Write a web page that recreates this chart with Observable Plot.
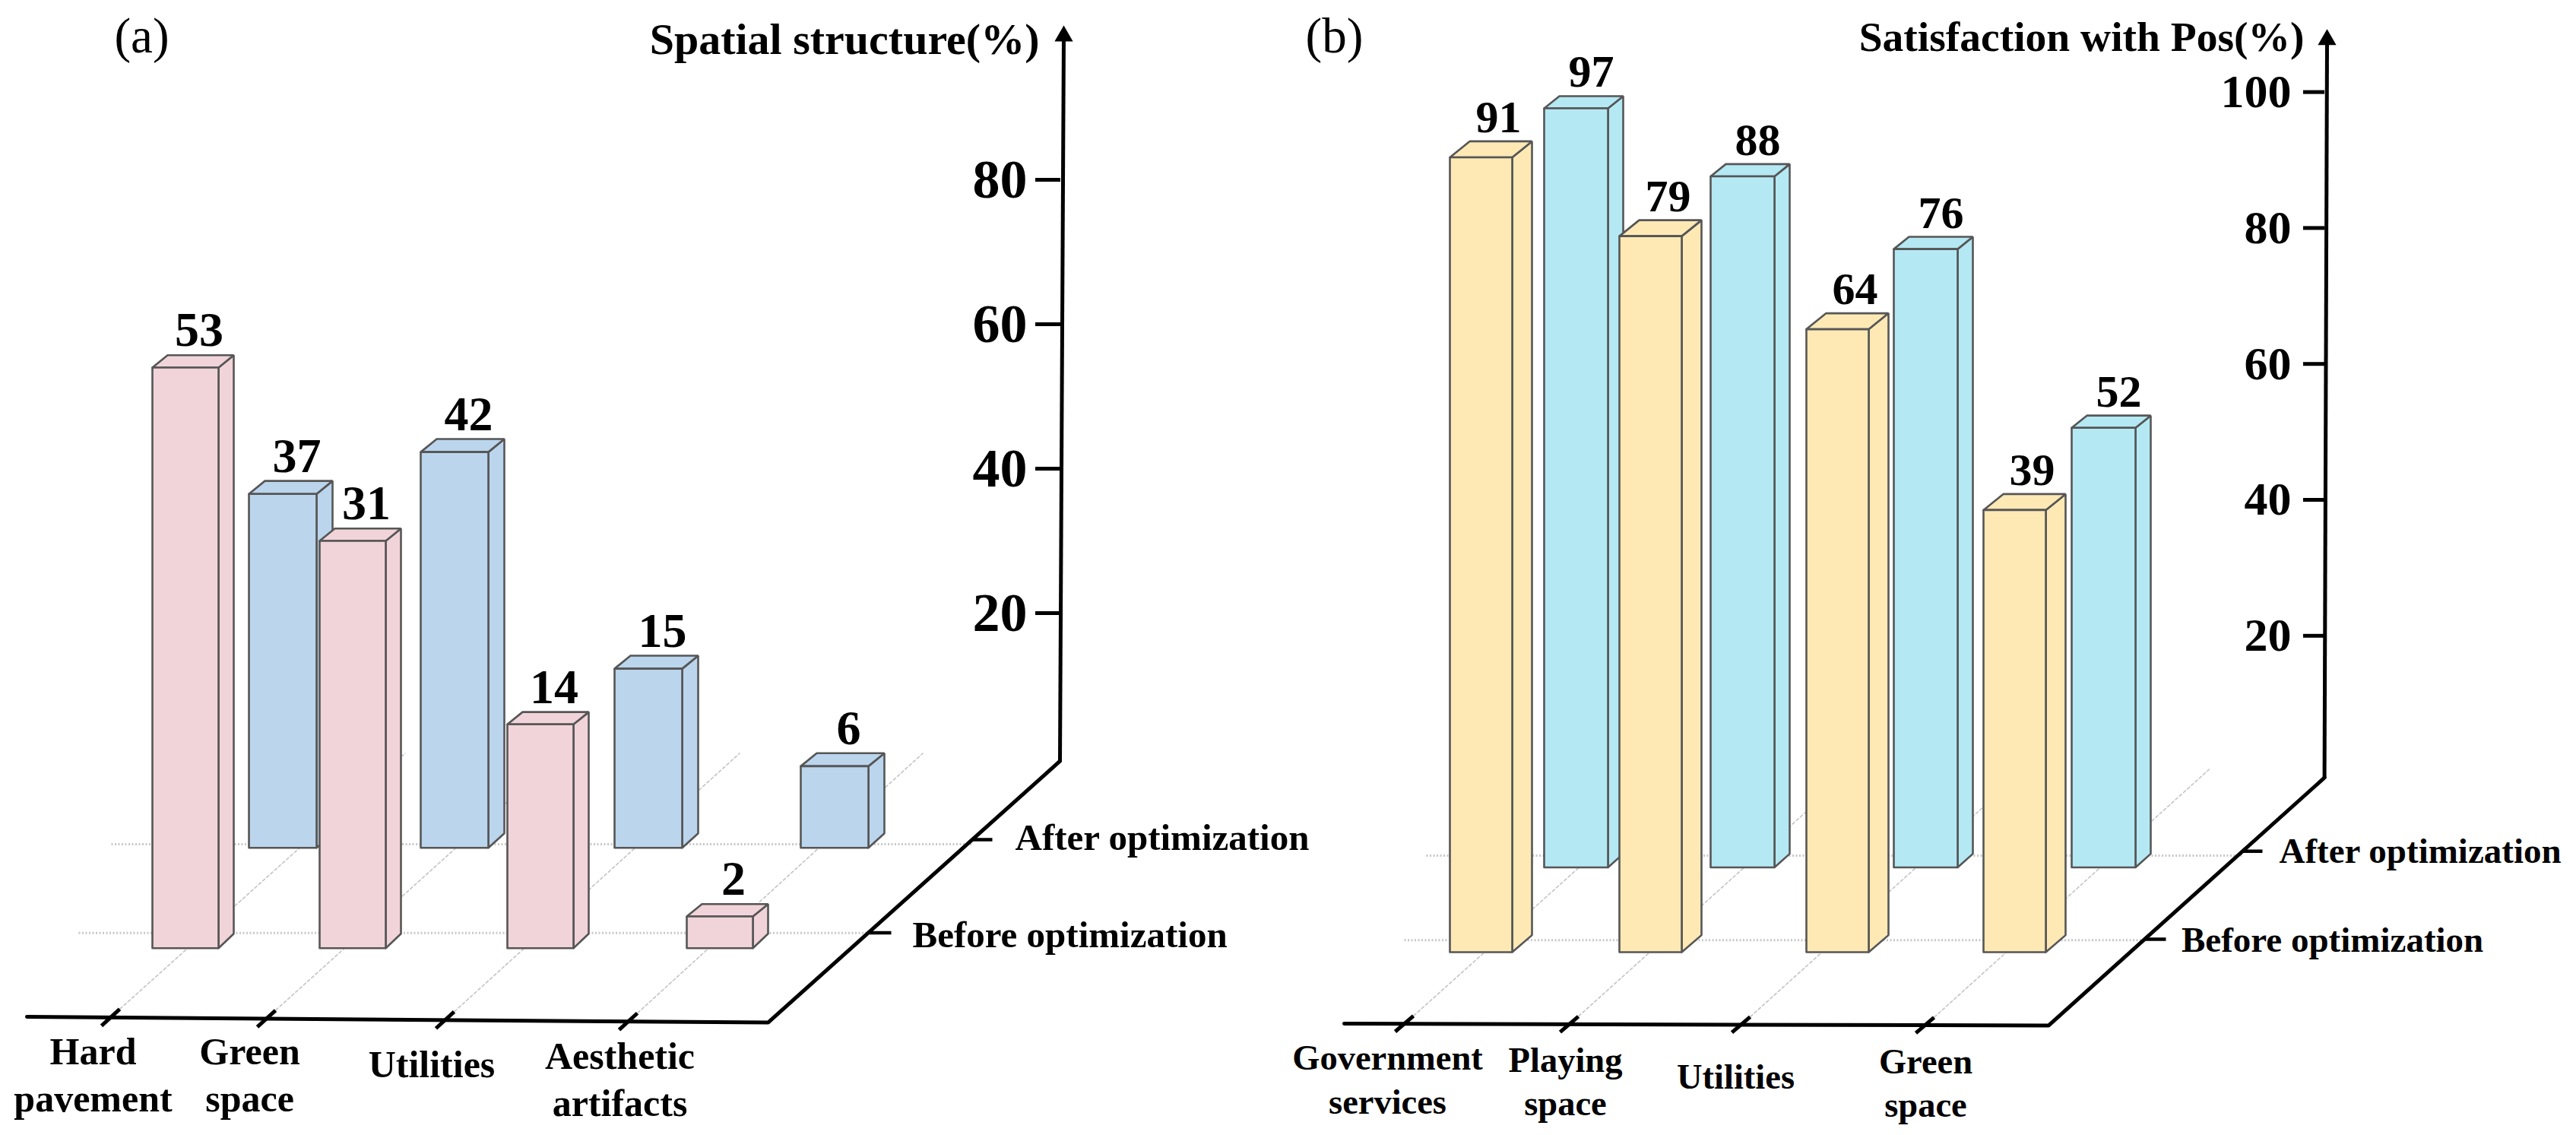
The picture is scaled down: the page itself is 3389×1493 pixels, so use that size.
<!DOCTYPE html>
<html>
<head>
<meta charset="utf-8">
<script src="https://cdn.jsdelivr.net/npm/d3@7"></script>
<script src="https://cdn.jsdelivr.net/npm/@observablehq/plot@0.6"></script>
<style>
  html, body { margin: 0; padding: 0; background: #fff; }
  #chart { display: flex; width: 3389px; height: 1493px; }
  #chart svg { display: block; flex: none; max-width: none; }
</style>
</head>
<body>
<div id="chart"></div>
<script>
// ---- Chart values ----
const spatialCategories = ["Hard\npavement", "Green\nspace", "Utilities", "Aesthetic\nartifacts"];
const spatialBefore = [53, 31, 14, 2];   // printed above the bars
const spatialAfter = [37, 42, 15, 6];    // printed above the bars
// The bars are not all drawn exactly at their printed value (the short bars of
// panel (a) least of all): these are the bar tops as they read against each
// panel's own vertical axis.
const spatialBeforeDrawn = [54, 30, 4.6, -22];
const spatialAfterDrawn = [36.5, 42.3, 12.3, -1.2];

const posCategories = ["Government\nservices", "Playing\nspace", "Utilities", "Green\nspace"];
const posBefore = [91, 79, 64, 39];
const posAfter = [97, 88, 76, 52];
const posBeforeDrawn = [90.4, 78.8, 65.1, 38.5];
const posAfterDrawn = [97.6, 87.6, 76.9, 50.6];

const seriesNames = ["Before optimization", "After optimization"];

// ---- Layout of the oblique view (separate from the values) ----
const panels = [
  {
    letter: "(a)", title: "Spatial structure(%)",
    categories: spatialCategories,
    ticks: [20, 40, 60, 80],
    xDomain: [0, 1700], width: 1700,
    yDomain: [104.84, -52.32],
    letterAt: [186, 97.6], titleAt: [1367, 97.4], titleSize: 58,
    tickSize: 72, tickSide: 33, tickPad: 11, valueSize: 64, valueShift: 8,
    axisBase: [1394, -0.5], axisTop: [1399, 99.9], axisTickX: 1395,
    front: [[35, -35.9], [1010, -36.7]],
    catX: [145, 350, 585, 826], gridDx: 388, gridEnd: 0.63,
    labelX: [122, 328, 567.5, 815], labelY: [-49.05, -49.05, -44.3, -49.6],
    labelSize: 50, depthSize: 49,
    series: [
      { name: seriesNames[1], labels: spatialAfter, drawn: spatialAfterDrawn, left: [327, 553, 808, 1053],
        w: 89, dx: 21, dy: 1.8, baseDy: 2, base: -12.5, fill: "#BBD5ED",
        tick: [1278, 1305, -11.37], grid: [146, -12], text: [1335, -12.84] },
      { name: seriesNames[0], labels: spatialBefore, drawn: spatialBeforeDrawn, left: [200, 420, 667, 903],
        w: 87, dx: 20, dy: 1.7, baseDy: 2, base: -26.4, fill: "#F1D4D9",
        tick: [1143, 1172, -24.27], grid: [103, -24.3], text: [1200, -26.3] }
    ]
  },
  {
    letter: "(b)", title: "Satisfaction with Pos(%)",
    categories: posCategories,
    ticks: [20, 40, 60, 80, 100],
    xDomain: [1700, 3389], width: 1689,
    yDomain: [113.49, -53.51],
    letterAt: [1755, 105.8], titleAt: [3031, 106], titleSize: 55.5,
    tickSize: 62, tickSide: 28, tickPad: 16, valueSize: 60, valueShift: 10,
    axisBase: [3057.6, -0.88], axisTop: [3061, 107.7], axisTickX: 3058,
    front: [[1768, -37.07], [2694.5, -37.35]],
    catX: [1847, 2064, 2290, 2532], gridDx: 375, gridEnd: 0.46,
    labelX: [1825, 2059, 2283, 2533], labelY: [-50.3, -50.6, -46.6, -50.8],
    labelSize: 46.5, depthSize: 47,
    series: [
      { name: seriesNames[1], labels: posAfter, drawn: posAfterDrawn, left: [2031, 2250, 2491, 2725],
        w: 84, dx: 20, dy: 1.8, baseDy: 2, base: -14.08, fill: "#B4E9F4",
        tick: [2949, 2976, -11.7], grid: [1876, -12.35], text: [2998, -13.37] },
      { name: seriesNames[0], labels: posBefore, drawn: posBeforeDrawn, left: [1907, 2130, 2376, 2609],
        w: 82, dx: 26, dy: 2.35, baseDy: 2.5, base: -26.55, fill: "#FEE9B5",
        tick: [2822, 2849, -24.65], grid: [1847, -24.8], text: [2869.5, -26.55] }
    ]
  }
];

const FONT = "'Liberation Serif', 'Times New Roman', serif";
const INK = "#000";
const EDGE = "#565656";

function drawPanel(p) {
  const frontY = x => p.front[0][1] + (x - p.front[0][0]) * (p.front[1][1] - p.front[0][1]) / (p.front[1][0] - p.front[0][0]);

  // Three faces per bar, in painting order: back series first.
  const faceMarks = p.series.map(s => {
    const faces = [];
    s.drawn.forEach((top, i) => {
      const x1 = s.left[i], x2 = x1 + s.w;
      const poly = (id, pts) => pts.forEach(([x, y]) => faces.push({ id: `${i}-${id}`, x, y }));
      poly("side", [[x2, s.base], [x2 + s.dx, s.base + s.baseDy], [x2 + s.dx, top + s.dy], [x2, top], [x2, s.base]]);
      poly("top", [[x1, top], [x1 + s.dx, top + s.dy], [x2 + s.dx, top + s.dy], [x2, top], [x1, top]]);
      poly("front", [[x1, s.base], [x1, top], [x2, top], [x2, s.base], [x1, s.base]]);
    });
    return Plot.line(faces, {
      x: "x", y: "y", z: "id", fill: s.fill, stroke: EDGE, strokeWidth: 2.6,
      curve: "linear", strokeLinejoin: "miter"
    });
  });

  // Value labels above each bar
  const valueMarks = p.series.map(s => Plot.text(s.labels.map((v, i) => ({
      v,
      x: s.left[i] + (s.w + s.dx) / 2 + p.valueShift,
      y: s.drawn[i] + s.dy
    })), {
      x: "x", y: "y", text: d => String(d.v), dy: -12, lineAnchor: "bottom",
      fontSize: p.valueSize, fontWeight: "bold", fill: INK
    }));

  const links = (data, opts) => Plot.link(data, { x1: "x1", y1: "y1", x2: "x2", y2: "y2", ...opts });

  return Plot.plot({
    width: p.width, height: 1493,
    marginTop: 0, marginRight: 0, marginBottom: 0, marginLeft: 0,
    style: { fontFamily: FONT, background: "transparent", overflow: "visible" },
    x: { domain: p.xDomain, range: [0, p.width], axis: null },
    y: { domain: p.yDomain, range: [0, 1493] },
    marks: [
      // floor grid: lines running into depth, dotted lines across
      links(p.catX.map(x => ({ x1: x + 12, y1: frontY(x) + 1.15, x2: x + p.gridDx, y2: p.gridEnd })),
        { stroke: "#c4c4c4", strokeWidth: 1.6, strokeDasharray: "5,2" }),
      links(p.series.map(s => ({ x1: s.grid[0], y1: s.grid[1], x2: s.tick[0], y2: s.grid[1] })),
        { stroke: "#c8c8c8", strokeWidth: 3, strokeDasharray: "2,2.5" }),

      ...faceMarks,
      ...valueMarks,

      // vertical value axis
      Plot.axisY({
        x: p.axisTickX, anchor: "left", ticks: p.ticks, tickFormat: d => String(d), label: null,
        tickSize: p.tickSide, tickPadding: p.tickPad, strokeWidth: 5, stroke: INK,
        fontSize: p.tickSize, fontWeight: "bold", fill: INK
      }),
      links([{ x1: p.axisBase[0], y1: p.axisBase[1], x2: p.axisTop[0], y2: p.axisTop[1] }],
        { stroke: INK, strokeWidth: 5 }),
      Plot.dot([p.axisTop], { x: "0", y: "1", symbol: "triangle", r: 9, fill: INK, stroke: "none" }),

      // floor edges: front category axis and receding series axis
      Plot.line([p.front[0], p.front[1], p.axisBase], {
        x: "0", y: "1", stroke: INK, strokeWidth: 5, strokeLinejoin: "miter"
      }),
      links(p.catX.map(x => ({ x1: x - 12, y1: frontY(x) - 1.15, x2: x + 12, y2: frontY(x) + 1.15 })),
        { stroke: INK, strokeWidth: 5 }),
      links(p.series.map(s => ({ x1: s.tick[0], y1: s.tick[2], x2: s.tick[1], y2: s.tick[2] })),
        { stroke: INK, strokeWidth: 4.5 }),

      // category and series labels
      Plot.text(p.categories, {
        x: (d, i) => p.labelX[i], y: (d, i) => p.labelY[i], text: d => d,
        lineAnchor: "bottom", lineHeight: 1.24, fontSize: p.labelSize, fontWeight: "bold", fill: INK
      }),
      Plot.text(p.series, {
        x: s => s.text[0], y: s => s.text[1], text: "name", textAnchor: "start",
        lineAnchor: "bottom", fontSize: p.depthSize, fontWeight: "bold", fill: INK
      }),

      // axis title and panel letter
      Plot.text([p.title], {
        x: () => p.titleAt[0], y: () => p.titleAt[1], text: d => d, textAnchor: "end",
        lineAnchor: "bottom", fontSize: p.titleSize, fontWeight: "bold", fill: INK
      }),
      Plot.text([p.letter], {
        x: () => p.letterAt[0], y: () => p.letterAt[1], text: d => d,
        lineAnchor: "bottom", fontSize: 65, fill: INK
      })
    ]
  });
}

const host = document.getElementById("chart");
panels.forEach(p => host.appendChild(drawPanel(p)));
</script>
</body>
</html>
